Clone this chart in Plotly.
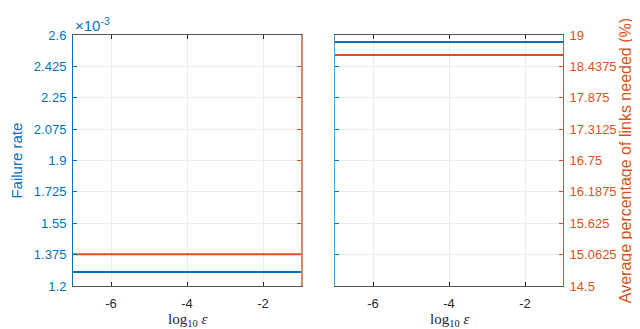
import plotly.graph_objects as go

# Data
log_eps = [-7, -6, -5, -4, -3, -2, -1]
fail_rate_a = [1.278e-3, 1.278e-3, 1.278e-3, 1.278e-3, 1.278e-3, 1.278e-3, 1.278e-3]
links_pct_a = [15.07, 15.07, 15.07, 15.07, 15.07, 15.07, 15.07]
fail_rate_b = [2.561e-3, 2.561e-3, 2.561e-3, 2.561e-3, 2.561e-3, 2.561e-3, 2.561e-3]
links_pct_b = [18.64, 18.64, 18.64, 18.64, 18.64, 18.64, 18.64]

fr_ticks = [1.2e-3, 1.375e-3, 1.55e-3, 1.725e-3, 1.9e-3, 2.075e-3, 2.25e-3, 2.425e-3, 2.6e-3]
fr_labels = ["1.2", "1.375", "1.55", "1.725", "1.9", "2.075", "2.25", "2.425", "2.6"]
pct_ticks = [14.5, 15.0625, 15.625, 16.1875, 16.75, 17.3125, 17.875, 18.4375, 19]
pct_labels = ["14.5", "15.0625", "15.625", "16.1875", "16.75", "17.3125", "17.875", "18.4375", "19"]
x_ticks = [-6, -4, -2]
x_labels = ["-6", "-4", "-2"]

BLUE = "#0072BD"
ORANGE = "#D95319"
DARK = "#262626"
W, H = 640, 329
SANS = "Liberation Sans, Arial, sans-serif"

fig = go.Figure()
fig.add_trace(go.Scatter(x=log_eps, y=fail_rate_a, mode="lines", line=dict(color=BLUE, width=2), xaxis="x", yaxis="y"))
fig.add_trace(go.Scatter(x=log_eps, y=links_pct_a, mode="lines", line=dict(color=ORANGE, width=2), xaxis="x", yaxis="y2"))
fig.add_trace(go.Scatter(x=log_eps, y=fail_rate_b, mode="lines", line=dict(color=BLUE, width=2), xaxis="x2", yaxis="y3"))
fig.add_trace(go.Scatter(x=log_eps, y=links_pct_b, mode="lines", line=dict(color=ORANGE, width=2), xaxis="x2", yaxis="y4"))

ydom = [1 - 284 / H, 1 - 21 / H]
tick_font = dict(family=SANS, size=13)

xcommon = dict(
    range=[-7, -1], tickvals=x_ticks, ticktext=x_labels, ticks="inside", ticklen=4, tickcolor=DARK,
    showline=True, linecolor="#555555", linewidth=1, mirror="ticks",
    showgrid=True, gridcolor="#EBEBEB", gridwidth=1, zeroline=False,
    tickfont=dict(color=DARK, **tick_font), ticklabelstandoff=5, title=None,
)
ycommon = dict(ticks="inside", ticklen=4, showline=True, linewidth=1, zeroline=False)

fig.update_layout(
    width=W, height=H,
    margin=dict(l=0, r=0, t=0, b=0),
    paper_bgcolor="white", plot_bgcolor="white",
    showlegend=False,
    xaxis=dict(domain=[65 / W, 293 / W], anchor="y", **xcommon),
    xaxis2=dict(domain=[327 / W, 555 / W], anchor="y3", **xcommon),
    yaxis=dict(
        domain=ydom, anchor="x", range=[1.2e-3, 2.6e-3], tickvals=fr_ticks, ticktext=fr_labels,
        linecolor=BLUE, tickcolor=BLUE, tickfont=dict(color=BLUE, **tick_font), ticklabelstandoff=3,
        showgrid=True, gridcolor="#E4EEF6", **ycommon,
    ),
    yaxis2=dict(
        overlaying="y", side="right", anchor="x", range=[14.5, 19], tickvals=pct_ticks,
        showticklabels=False, linecolor="#C98A6E", linewidth=1.5, tickcolor=ORANGE, showgrid=False,
        ticks="inside", ticklen=4, showline=True, zeroline=False,
    ),
    yaxis3=dict(
        domain=ydom, anchor="x2", range=[1.2e-3, 2.6e-3], tickvals=fr_ticks,
        showticklabels=False, linecolor="#4A9FDA", tickcolor=BLUE,
        showgrid=True, gridcolor="#E4EEF6", **ycommon,
    ),
    yaxis4=dict(
        overlaying="y3", side="right", anchor="x2", range=[14.5, 19], tickvals=pct_ticks, ticktext=pct_labels,
        linecolor=ORANGE, tickcolor=ORANGE, tickfont=dict(color=ORANGE, **tick_font), ticklabelstandoff=3,
        showgrid=False,
        title=dict(text="Average percentage of links needed (%)", standoff=4,
                   font=dict(family=SANS, size=16, color=ORANGE)),
        **ycommon,
    ),
)

serif = dict(family="Liberation Serif, DejaVu Serif, serif", size=15, color=DARK)
for cx in (179, 441):
    fig.add_annotation(text="log<sub>10</sub> <i>ε</i>", x=cx / W, y=1 - 320 / H, xref="paper", yref="paper",
                       showarrow=False, font=serif, xanchor="center", yanchor="middle")
fig.add_annotation(text="Failure rate", x=9 / W, y=1 - 152.5 / H, xref="paper", yref="paper", textangle=-90,
                   showarrow=False, font=dict(family=SANS, size=15, color=BLUE),
                   xanchor="center", yanchor="middle")
fig.add_annotation(text="×10<sup>-3</sup>", x=65 / W, y=1 - 10 / H, xref="paper", yref="paper",
                   showarrow=False, font=dict(family=SANS, size=15, color=BLUE),
                   xanchor="left", yanchor="middle")

fig.write_html("out.html")
